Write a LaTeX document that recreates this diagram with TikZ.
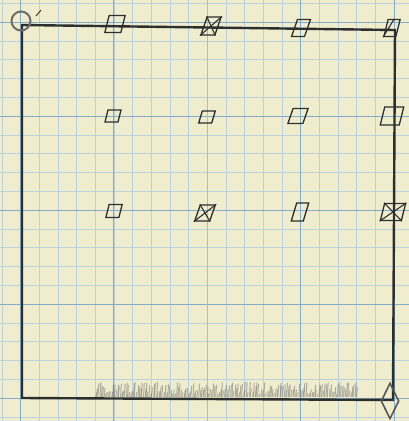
\documentclass[tikz,border=0pt]{standalone}
\usepackage{tikz}
\usetikzlibrary{positioning, calc, shapes.geometric}

\definecolor{paper}{HTML}{F0ECCE}
\definecolor{gridfine}{HTML}{BCD2DA}
\definecolor{gridmajor}{HTML}{86ABC8}
\definecolor{redline}{HTML}{EBAA80}
\definecolor{pencil}{HTML}{2B2F2D}

\begin{document}
\begin{tikzpicture}[x=1pt, y=-1pt,
  fineline/.style={gridfine, line width=0.6pt},
  majorline/.style={gridmajor, line width=1pt},
  frameline/.style={pencil, line width=2.4pt, line cap=round},
  marker/.style={draw=pencil, line width=1.3pt, minimum width=13pt, minimum height=12pt, inner sep=0pt, xslant=0.25},
  crossmark/.style={pencil, line width=1.1pt}
]
  \useasboundingbox (0,0) rectangle (409,421);
  \fill[paper] (0,0) rectangle (409,421);

  % graph paper
  \foreach \i in {-1,...,21} {
    \draw[fineline] ({20.5+18.68*\i},0) -- ({20.5+18.68*\i},421);
    \draw[fineline] (0,{22+18.8*\i}) -- (409,{22+18.8*\i});
  }
  \foreach \i in {0,1,3,4} \draw[majorline] ({20.5+93.4*\i},0) -- ({20.5+93.4*\i},421);
  \foreach \i in {0,...,4} \draw[majorline] (0,{22+94*\i}) -- (409,{22+94*\i});
  \draw[redline, line width=1.1pt] (207.3,0) -- (207.3,421);

  % frame corners
  \coordinate (tl) at (22,25);
  \coordinate (tr) at (395,30);
  \coordinate (bl) at (22,398);
  \coordinate (br) at (393,400);

  % shading along the bottom edge
  \pgfmathsetseed{7}
  \foreach \k in {0,...,180} {
    \pgfmathsetmacro{\xx}{95+1.45*\k+rnd}
    \pgfmathsetmacro{\hh}{3+12*rnd}
    \draw[gray!75!black, line width=1pt, opacity=0.45] (\xx,397) -- ({\xx+0.8},{397-\hh});
  }

  \draw[frameline] (tl) -- (tr) -- (br) -- (bl) -- cycle;

  % origin circle
  \node[draw=gray!85!black, line width=2pt, circle, minimum size=19pt, inner sep=0pt] (origin) at (21,21) {};
  \coordinate (tickA) at (36,16);
  \coordinate (tickB) at (41,10);
  \draw[pencil, line width=0.9pt] (tickA) -- (tickB);

  % end diamond
  \node[draw=pencil!80, line width=1.6pt, diamond, minimum width=18pt, minimum height=36pt, inner sep=0pt] (goal) at (390,401) {};

  % markers
  \node[marker, minimum width=16pt, minimum height=17pt] (m11) at (115,24) {};
  \node[marker, minimum width=14pt, minimum height=18pt, xslant=0.1] (m12) at (211,26) {};
  \node[marker, minimum width=13pt, minimum height=17pt, xslant=0.1] (m13) at (301,28) {};
  \node[marker, minimum width=12pt, minimum height=17pt] (m14) at (392,28) {};
  \node[marker] (m21) at (113,116) {};
  \node[marker, xslant=0.05] (m22) at (207,117) {};
  \node[marker, minimum width=15pt, minimum height=15pt, xslant=0.1] (m23) at (298,116) {};
  \node[marker, minimum width=19pt, minimum height=18pt] (m24) at (392,116) {};
  \node[marker, minimum height=13pt] (m31) at (114,211) {};
  \node[marker, minimum width=15pt, minimum height=16pt, xslant=0.1] (m32) at (205,213) {};
  \node[marker, minimum width=12pt, minimum height=18pt, xslant=0.05] (m33) at (300,212) {};
  \node[marker, minimum width=21pt, minimum height=17pt] (m34) at (393,212) {};

  % crossed markers
  \foreach \m in {m12, m32, m34} {
    \draw[crossmark] (\m.north west) -- (\m.south east);
    \draw[crossmark] (\m.north east) -- (\m.south west);
  }
  \draw[crossmark] (m14.north) -- (m14.south west);
\end{tikzpicture}
\end{document}
